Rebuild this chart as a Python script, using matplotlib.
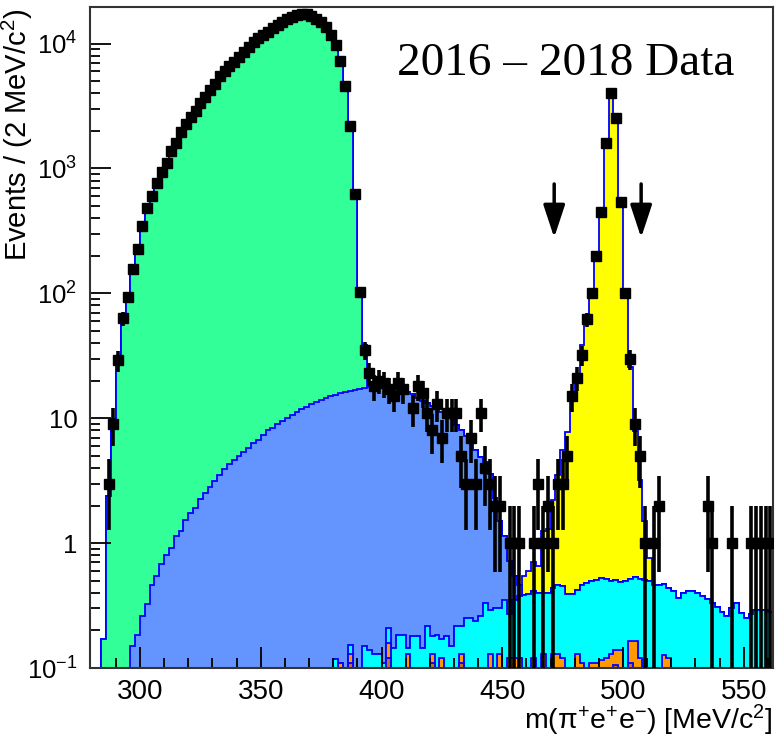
import numpy as np
import matplotlib
matplotlib.use('Agg')
import matplotlib.pyplot as plt

plt.rcParams['font.family'] = ['Liberation Sans', 'DejaVu Sans']
plt.rcParams['mathtext.fontset'] = 'custom'
plt.rcParams['mathtext.rm'] = 'Liberation Sans'
plt.rcParams['mathtext.it'] = 'Liberation Sans:italic'

# 2 MeV bins, centres 281 ... 561
edges = np.arange(280, 563, 2)
centres = edges[:-1] + 1

# dense components: (first bin centre, values)
green_start = 285
green_vals = [0.17, 2.4, 9.8, 29, 62, 92, 155, 224, 345, 478, 603, 758, 928, 1100, 1370,
              1600, 1940, 2250, 2600, 2890, 3350, 3740, 4230, 4720, 5470, 6040, 6620, 7130,
              7820, 8570, 9390, 10300, 11100, 11650, 12400, 13200, 14000, 14900, 15600, 16300,
              16800, 17100, 17100, 16600, 15800, 14900, 13600, 11800, 9700, 7300, 4600, 2200,
              600, 85, 21, 0.5, 0.3]

blue_start = 297
blue_vals = [0.149, 0.185, 0.262, 0.327, 0.463, 0.547, 0.679, 0.806, 0.922, 1.13, 1.26, 1.54,
             1.74, 1.91, 2.26, 2.51, 2.81, 3.17, 3.52, 3.91, 4.31, 4.64, 4.99, 5.4, 5.82, 6.31,
             6.7, 7.35, 8.06, 8.41, 8.95, 9.5, 10.1, 10.7, 11.3, 11.9, 12.4, 13.0, 13.5, 14.0,
             14.5, 15.0, 15.3, 15.7, 16.1, 16.5, 16.8, 17.1, 17.3, 17.5, 17.6, 17.6, 17.6, 17.4,
             17.2, 16.9, 16.5, 16.0, 15.3, 14.4, 13.6, 13.0, 12.3, 11.6, 11.1, 10.7, 10.0, 8.6,
             7.8, 6.9, 6.1, 5.3, 4.6, 4.1, 3.3, 2.0, 1.2, 0.8, 0.45, 0.2, 0.08]

cyan_start = 379
cyan_vals = [0.05, 0.117, 0.0, 0.07, 0.022, 0.08, 0.10, 0.15, 0.14, 0.13,
             0.13, 0.11, 0.05, 0.145, 0.185, 0.185, 0.015, 0.18, 0.18, 0.145,
             0.215, 0.05, 0.185, 0.05, 0.18, 0.15, 0.215, 0.085, 0.25, 0.25,
             0.24, 0.26, 0.33, 0.16, 0.30, 0.17, 0.35, 0.15, 0.23, 0.26,
             0.386, 0.39, 0.29, 0.40, 0.27, 0.40, 0.307, 0.334, 0.33, 0.39,
             0.39, 0.29, 0.35, 0.48, 0.39, 0.40, 0.41, 0.40, 0.37, 0.37,
             0.35, 0.50, 0.355, 0.375, 0.40, 0.51, 0.50, 0.464, 0.464, 0.343,
             0.32, 0.41, 0.363, 0.40, 0.41, 0.41, 0.40, 0.38, 0.36, 0.33,
             0.31, 0.28, 0.26, 0.30, 0.33, 0.275, 0.25, 0.27, 0.29, 0.29,
             0.29, 0.28]

yellow_start = 459
yellow_vals = [0.16, 0.21, 0.29, 0.25, 0.84, 0.9, 1.76, 3.04, 5.15, 7.41, 14.5, 21.1, 38.0, 57.0,
               90.5, 203.5, 449.5, 1599.5, 3979.5, 2509.5, 534.5, 93.5, 25.4, 7.3, 2.7, 1.0, 0.26]

# sparse components: bin centres and values
orange_m = [383, 387, 403, 411, 421, 425, 433, 445, 449, 453, 455, 457, 463, 467, 471, 473,
            475, 481, 483, 487, 489, 491, 493, 495, 497, 499, 503, 505, 507, 517, 519]
orange_v = [0.11, 0.02, 0.04, 0.13, 0.02, 0.12, 0.02, 0.13, 0.13, 0.12, 0.12, 0.12, 0.12, 0.13,
            0.13, 0.13, 0.12, 0.13, 0.11, 0.11, 0.11, 0.115, 0.12, 0.13, 0.035, 0.14, 0.055,
            0.165, 0.12, 0.127, 0.12]
brown_m = [387, 403, 421, 433, 497, 503]
brown_v = [0.11, 0.12, 0.11, 0.11, 0.105, 0.11]

# data counts, bin centres 287 ... 561
data_start = 287
data_vals = [3, 9, 29, 63, 93, 156, 225, 346, 480, 605,
             760, 930, 1100, 1370, 1600, 1940, 2250, 2600, 2890, 3350,
             3740, 4230, 4720, 5470, 6040, 6620, 7130, 7820, 8570, 9390,
             10300, 11100, 11650, 12400, 13200, 14000, 14900, 15600, 16300, 16800,
             17100, 17100, 16600, 15800, 14900, 13600, 11800, 9700, 7300, 4600,
             2200, 620, 102, 35, 23, 18, 20, 19, 17, 15,
             19, 17, 0, 12, 18, 16, 11, 8, 13, 7,
             11, 11, 11, 5, 3, 7, 3, 11, 4, 3,
             2, 2, 0, 1, 1, 1, 0, 0, 1, 3,
             1, 2, 1, 3, 3, 5, 15, 21, 32, 62,
             100, 199, 450, 1600, 3980, 2510, 535, 100, 30, 9,
             5, 1, 0, 1, 2, 0, 0, 0, 0, 0,
             0, 0, 0, 0, 2, 1, 0, 0, 0, 1,
             0, 0, 0, 1, 1, 1, 1, 1]


def place(start, vals):
    arr = np.zeros(len(centres))
    i0 = (start - centres[0]) // 2
    arr[i0:i0 + len(vals)] = vals
    return arr


def place_sparse(ms, vs):
    arr = np.zeros(len(centres))
    for mm, vv in zip(ms, vs):
        arr[(mm - centres[0]) // 2] = vv
    return arr


brown = place_sparse(brown_m, brown_v)
orange = place_sparse(orange_m, orange_v)
cyan = place(cyan_start, cyan_vals)
blue = place(blue_start, blue_vals)
green = place(green_start, green_vals)
yellow = place(yellow_start, yellow_vals)
data = place(data_start, data_vals)

layers = [(brown, '#c8701e'), (orange, '#ff9900'), (cyan, '#00ffff'),
          (blue, '#6495ff'), (green, '#33ff99'), (yellow, '#ffff00')]

fig = plt.figure(figsize=(7.76, 7.37), dpi=100)
ax = fig.add_axes([90 / 776, (737 - 668) / 737, 683 / 776, 661 / 737])

floor = 1e-3
cum = np.zeros(len(centres))
tops = []
for vals, col in layers:
    cum = cum + vals
    tops.append((cum.copy(), col))

# draw from the top of the stack down so lower layers cover the upper ones
for top, col in reversed(tops):
    h = np.where(top > 0, top, floor)
    ax.stairs(h, edges, baseline=floor, fill=True, color=col, lw=0)
    ax.stairs(h, edges, baseline=floor, fill=False, color='#0000ff', lw=1.3)

# data
m = data > 0
y = data[m]
err = np.sqrt(y)
lo = np.minimum(err, y - floor)
ax.errorbar(centres[m], y, yerr=[lo, err], xerr=1.0, fmt='s', color='black',
            ms=7, elinewidth=2.6, capsize=0, zorder=5)

# signal-window arrows
for xa in (471.5, 507.5):
    ax.annotate('', xy=(xa, 265), xytext=(xa, 790),
                arrowprops=dict(arrowstyle='-|>,head_width=0.33,head_length=1.0',
                                mutation_scale=20, lw=2.5, color='black'))

ax.set_yscale('log')
ax.set_xlim(279.3, 562.1)
ax.set_ylim(0.1, 1.96e4)

ax.set_xticks([300, 350, 400, 450, 500, 550])
ax.set_xticks(np.arange(290, 561, 10), minor=True)
ax.set_yticks([0.1, 1, 10, 100, 1000, 10000])
ax.set_yticklabels([r'$10^{-1}$', '1', '10', r'$10^{2}$', r'$10^{3}$', r'$10^{4}$'])
ax.tick_params(which='both', direction='in', top=False, right=False, width=1.3)
ax.tick_params(axis='x', labelsize=20, pad=8)
ax.tick_params(axis='y', labelsize=18.5, pad=9)
ax.tick_params(which='major', length=15)
ax.tick_params(which='minor', length=7)
for s in ax.spines.values():
    s.set_linewidth(1.5)
    s.set_color('#333333')

ax.set_xlabel(r'm(π$^{+}$e$^{+}$e$^{-}$) [MeV/c$^{2}$]', fontsize=20.5, loc='right')
ax.xaxis.set_label_coords(1.0, -0.053)
ax.set_ylabel(r'Events / (2 MeV/c$^{2}$)', fontsize=21, loc='top')
ax.yaxis.set_label_coords(-0.08, 0.998)

fig.text(397 / 776, (737 - 75) / 737, '2016 – 2018 Data', fontsize=34,
         family='Liberation Serif', va='baseline', ha='left')

fig.savefig('out.png', dpi=100)
plt.close(fig)
